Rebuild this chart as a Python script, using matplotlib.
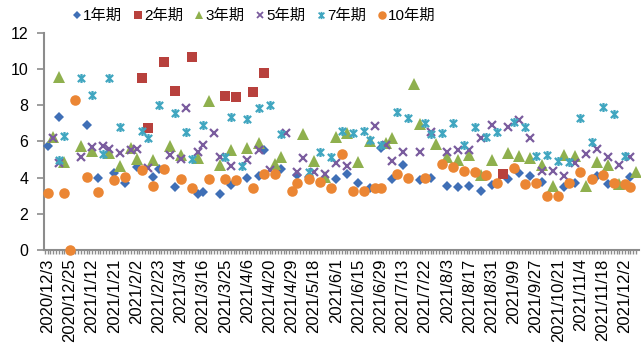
import numpy as np
import matplotlib
matplotlib.use("Agg")
import matplotlib.pyplot as plt
from matplotlib.path import Path

plt.rcParams['font.family'] = ['Liberation Sans', 'Noto Sans CJK SC', 'DejaVu Sans']

# ---- data ----
n_slots = 107
tick_labels = ["2020/12/3", "2020/12/25", "2021/1/12", "2021/1/21", "2021/2/2", "2021/2/23",
               "2021/3/4", "2021/3/16", "2021/3/25", "2021/4/6", "2021/4/20", "2021/4/29",
               "2021/5/18", "2021/6/1", "2021/6/15", "2021/6/29", "2021/7/13", "2021/7/22",
               "2021/8/3", "2021/8/17", "2021/8/31", "2021/9/9", "2021/9/27", "2021/10/21",
               "2021/11/4", "2021/11/18", "2021/12/2"]
label_every = 4

y1_x = [0, 2, 7, 9, 12, 14, 16, 19, 20, 23, 27, 28, 31, 33, 36, 38, 39, 42, 45, 47, 52, 54, 56, 58,
        60, 62, 64, 67, 69, 72, 74, 76, 78, 80, 83, 85, 87, 89, 93, 95, 99, 101, 105]
y1_v = [5.75, 7.37, 6.89, 3.96, 4.24, 3.68, 4.6, 4.05, 4.49, 3.46, 3.09, 3.22, 3.09, 3.59, 4.0, 4.1,
        5.5, 4.5, 4.14, 4.05, 3.94, 4.2, 3.68, 3.44, 5.62, 3.92, 4.68, 3.87, 3.98, 3.55, 3.48, 3.55,
        3.24, 3.61, 3.92, 4.26, 4.09, 3.77, 3.5, 3.68, 4.09, 3.65, 4.01]

y2_x = [17, 18, 21, 23, 26, 32, 34, 37, 39, 82]
y2_v = [9.48, 6.72, 10.37, 8.76, 10.66, 8.51, 8.44, 8.73, 9.78, 4.17]

y3_x = [1, 2, 3, 6, 8, 11, 13, 15, 16, 19, 22, 24, 27, 29, 31, 33, 36, 38, 41, 42, 46, 48, 50, 52,
        54, 56, 58, 61, 62, 66, 67, 70, 72, 74, 76, 78, 80, 83, 85, 87, 89, 91, 93, 95, 97, 99, 101,
        103, 106]
y3_v = [6.26, 9.57, 4.88, 5.77, 5.47, 5.34, 4.66, 5.65, 5.01, 4.97, 5.77, 5.25, 5.08, 8.22, 4.68,
        5.52, 5.64, 5.89, 4.75, 5.14, 6.39, 4.92, 4.05, 6.24, 6.47, 4.88, 6.0, 5.89, 6.17, 9.17, 6.98,
        5.84, 5.16, 4.95, 5.25, 4.12, 4.95, 5.34, 5.2, 5.07, 4.7, 3.55, 5.25, 5.19, 3.55, 4.88, 4.7,
        3.65, 4.33]

y5_x = [1, 2, 6, 8, 10, 11, 13, 15, 16, 18, 22, 24, 25, 27, 28, 30, 31, 33, 36, 38, 40, 43, 45, 46,
        48, 50, 52, 54, 59, 61, 62, 64, 67, 69, 72, 74, 76, 78, 80, 83, 85, 87, 89, 91, 93, 95, 97,
        99, 101, 103, 105]
y5_v = [6.2, 4.8, 5.16, 5.71, 5.75, 5.55, 5.34, 5.52, 5.56, 4.51, 5.25, 5.04, 7.83, 5.43, 5.82,
        6.48, 5.16, 4.64, 4.99, 5.5, 4.44, 6.45, 4.33, 5.08, 4.28, 4.2, 4.79, 4.62, 6.86, 5.78, 4.93,
        5.43, 5.43, 6.54, 5.39, 5.5, 5.5, 6.17, 6.92, 6.81, 7.16, 6.21, 4.38, 4.38, 4.09, 4.83, 5.3,
        5.56, 5.12, 4.7, 5.12]

y7_x = [2, 3, 6, 8, 10, 11, 13, 17, 18, 20, 23, 25, 26, 28, 32, 33, 35, 36, 38, 40, 42, 47, 49, 51,
        53, 55, 57, 58, 60, 63, 65, 68, 69, 71, 73, 75, 77, 79, 81, 84, 86, 88, 90, 92, 94, 96, 98,
        100, 102, 104]
y7_v = [4.97, 6.32, 9.48, 8.56, 5.28, 9.48, 6.81, 6.59, 6.17, 8.01, 7.55, 6.5, 5.01, 6.92, 5.16,
        7.32, 4.65, 7.24, 7.83, 8.01, 6.39, 4.33, 5.42, 5.16, 6.56, 6.45, 6.57, 6.1, 5.82, 7.64, 7.28,
        7.03, 6.39, 6.47, 7.0, 5.82, 6.81, 6.26, 6.52, 7.09, 6.8, 5.19, 5.25, 4.94, 4.88, 7.28, 5.95,
        7.92, 7.5, 5.19]

y10_x = [0, 3, 4, 5, 7, 9, 12, 14, 17, 19, 21, 24, 26, 29, 32, 34, 37, 39, 41, 44, 45, 47, 49, 51,
         53, 55, 57, 59, 60, 63, 65, 68, 71, 73, 75, 77, 79, 81, 84, 86, 88, 90, 92, 94, 96, 98, 100,
         102, 104, 105]
y10_v = [3.13, 3.13, 0.0, 8.29, 4.01, 3.19, 3.87, 4.01, 4.42, 3.54, 4.48, 3.91, 3.41, 3.94, 3.91,
         3.87, 3.44, 4.22, 4.17, 3.27, 3.72, 3.91, 3.76, 3.42, 5.32, 3.28, 3.28, 3.41, 3.41, 4.2,
         3.96, 3.95, 4.74, 4.58, 4.38, 4.33, 4.16, 3.68, 4.51, 3.65, 3.72, 2.98, 3.0, 3.72, 4.33,
         3.91, 4.14, 3.68, 3.63, 3.5]

series_names = ["1年期", "2年期", "3年期", "5年期", "7年期", "10年期"]

# ---- style ----
star = Path([(-1, -1), (1, 1), (-1, 1), (1, -1), (0, -1.25), (0, 1.25)],
            [Path.MOVETO, Path.LINETO, Path.MOVETO, Path.LINETO, Path.MOVETO, Path.LINETO])

styles = [
    dict(marker='D', color='#3F6FB6', ms=5.0, mew=0),
    dict(marker='s', color='#B8413D', ms=7.2, mew=0),
    dict(marker='^', color='#8FB04E', ms=8.0, mew=0),
    dict(marker='x', color='#7A5C9E', ms=6.0, mew=1.6),
    dict(marker=star, color='#40A6C0', ms=6.5, mew=1.6),
    dict(marker='o', color='#EB8634', ms=7.6, mew=0),
]

fig = plt.figure(figsize=(6.41, 3.54), dpi=100)
ax = fig.add_axes([43.5 / 641, 1 - 250 / 354, (638.7 - 43.5) / 641, (250 - 32.7) / 354])

xs = [y1_x, y2_x, y3_x, y5_x, y7_x, y10_x]
vs = [y1_v, y2_v, y3_v, y5_v, y7_v, y10_v]
handles = []
for x, v, name, st in zip(xs, vs, series_names, styles):
    ax.plot(x, v, linestyle='none', marker=st['marker'], color=st['color'],
            markersize=st['ms'], markeredgewidth=st['mew'], label=name, clip_on=False, zorder=3)
    h, = ax.plot([], [], linestyle='none', marker=st['marker'], color=st['color'],
                 markersize=st['ms'] * 0.8, markeredgewidth=st['mew'] * 0.8, label=name)
    handles.append(h)

ax.set_xlim(-0.76, 106.5)
ax.set_ylim(0, 12)
ax.set_yticks(np.arange(0, 13, 2))
ax.set_xticks(np.arange(0, len(tick_labels) * label_every, label_every))
ax.set_xticklabels(tick_labels, rotation=90, fontsize=12)
ax.set_xticks(np.arange(-0.5, 106.5, 0.5), minor=True)
ax.tick_params(axis='y', labelsize=11.5, length=5, width=1.2, color='#8C8C8C', pad=6)
ax.tick_params(axis='x', which='major', length=3, width=1, color='#8C8C8C', pad=3)
ax.tick_params(axis='x', which='minor', length=3, width=1, color='#8C8C8C')

for s in ['top', 'right']:
    ax.spines[s].set_visible(False)
for s in ['left', 'bottom']:
    ax.spines[s].set_color('#8C8C8C')
    ax.spines[s].set_linewidth(1.5)

leg = fig.legend(handles=handles, labels=series_names, loc='upper left',
                 bbox_to_anchor=(72 / 641, 1 - 9 / 354), ncol=6, frameon=False,
                 fontsize=11, handlelength=0.6, handletextpad=0.1, columnspacing=0.75,
                 borderaxespad=0, borderpad=0)

fig.savefig('out.png', dpi=100)
